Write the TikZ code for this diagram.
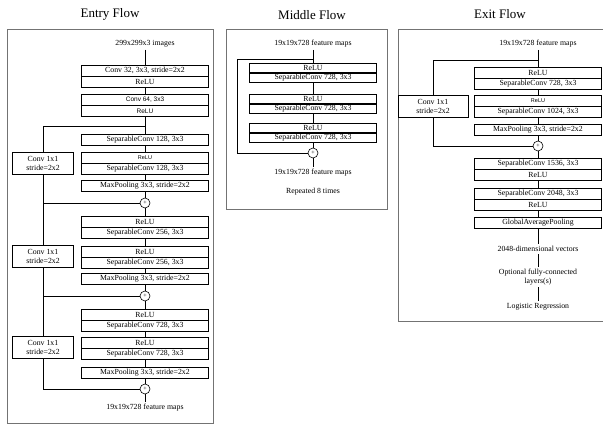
\documentclass[tikz,border=0pt]{standalone}
\usepackage{fontspec}
\setmainfont{Liberation Serif}
\newfontfamily\lsans{Liberation Sans}
\usetikzlibrary{positioning}

\begin{document}
\begin{tikzpicture}
[x=1pt, y=-1pt, node distance=0pt,
% STYLES
every node/.style={font=\fontsize{7.8}{9}\selectfont},
% The layer style is used to draw one operation of the network
layer/.style={rectangle, draw, line width=0.6pt, fill=white, inner sep=0pt, minimum width=127pt, minimum height=11pt},
mlayer/.style={layer, minimum height=9.5pt},
% sans-serif layers
slayer/.style={layer, font=\lsans\fontsize{6.5}{7}\selectfont},
tlayer/.style={layer, font=\lsans\fontsize{5.5}{6}\selectfont},
% 1x1 convolution on the shortcut
shortcut/.style={rectangle, draw, line width=0.6pt, fill=white, inner sep=0pt, minimum width=61pt, minimum height=22pt, align=center},
addnode/.style={circle, draw, line width=0.6pt, fill=white, inner sep=0pt, minimum size=10pt, font=\fontsize{6}{6}\selectfont},
txt/.style={inner sep=2pt, align=center},
title/.style={font=\fontsize{13}{15}\selectfont},
frame/.style={draw=black!55, line width=0.8pt},
every path/.style={line width=0.6pt}]

\useasboundingbox (0,0) rectangle (603,425);

% Frames and titles
\draw [frame] (7,29) rectangle (213,423);
\draw [frame] (226,29) rectangle (387,209);
\draw [frame] (610,29) -- (398,29) -- (398,321) -- (610,321);
\node [title] (tentry) at (110,14) {Entry Flow};
\node [title] (tmiddle) at (312,15) {Middle Flow};
\node [title] (texit) at (500,14) {Exit Flow};

% Entry flow
\node [txt] (img) at (145,44) {299x299x3 images};
\node [layer] (c32) at (145,70.5) {Conv 32, 3x3, stride=2x2};
\node [layer, below=of c32] (relu1) {ReLU};
\node [slayer] (c64) at (145,99.5) {Conv 64, 3x3};
\node [slayer, below=of c64] (relu2) {ReLU};
\node [layer] (sep128a) at (145,139.5) {SeparableConv 128, 3x3};
\node [tlayer] (relu3) at (145,157.5) {ReLU};
\node [layer, below=of relu3] (sep128b) {SeparableConv 128, 3x3};
\node [layer] (mp1) at (145,185.5) {MaxPooling 3x3, stride=2x2};
\node [addnode] (add1) at (145,203) {+};
\node [layer] (relu4) at (145,221.5) {ReLU};
\node [layer, below=of relu4] (sep256a) {SeparableConv 256, 3x3};
\node [layer] (relu5) at (145,251.5) {ReLU};
\node [layer, below=of relu5] (sep256b) {SeparableConv 256, 3x3};
\node [layer] (mp2) at (145,278.5) {MaxPooling 3x3, stride=2x2};
\node [addnode] (add2) at (145,296) {+};
\node [layer] (relu6) at (145,314.5) {ReLU};
\node [layer, below=of relu6] (sep728a) {SeparableConv 728, 3x3};
\node [layer] (relu7) at (145,342.5) {ReLU};
\node [layer, below=of relu7] (sep728b) {SeparableConv 728, 3x3};
\node [layer] (mp3) at (145,372.5) {MaxPooling 3x3, stride=2x2};
\node [addnode] (add3) at (145,389) {+};
\node [txt] (eout) at (145,408) {19x19x728 feature maps};
\node [shortcut] (cv1) at (43,163) {Conv 1x1\\stride=2x2};
\node [shortcut] (cv2) at (43,256.5) {Conv 1x1\\stride=2x2};
\node [shortcut] (cv3) at (43,347) {Conv 1x1\\stride=2x2};
\coordinate (eb) at (145,126);

\draw (img) -- (c32);
\draw (relu1) -- (c64);
\draw (relu2) -- (sep128a);
\draw (sep128a) -- (relu3);
\draw (sep128b) -- (mp1);
\draw (mp1) -- (add1);
\draw (add1) -- (relu4);
\draw (sep256a) -- (relu5);
\draw (sep256b) -- (mp2);
\draw (mp2) -- (add2);
\draw (add2) -- (relu6);
\draw (sep728a) -- (relu7);
\draw (sep728b) -- (mp3);
\draw (mp3) -- (add3);
\draw (add3) -- (eout);
\draw (eb) -| (cv1);
\draw (cv1) |- (add1);
\draw (add1) -| (cv2);
\draw (cv2) |- (add2);
\draw (add2) -| (cv3);
\draw (cv3) |- (add3);

% Middle flow
\node [txt] (min) at (313,44) {19x19x728 feature maps};
\node [mlayer] (m1a) at (313,67.75) {ReLU};
\node [mlayer, below=of m1a] (m1b) {SeparableConv 728, 3x3};
\node [mlayer] (m2a) at (313,98.75) {ReLU};
\node [mlayer, below=of m2a] (m2b) {SeparableConv 728, 3x3};
\node [mlayer] (m3a) at (313,127.75) {ReLU};
\node [mlayer, below=of m3a] (m3b) {SeparableConv 728, 3x3};
\node [addnode] (madd) at (313,153) {+};
\node [txt] (mout) at (313,173) {19x19x728 feature maps};
\node [txt] (mrep) at (313,192) {Repeated 8 times};
\coordinate (mb) at (313,59);
\coordinate (mc) at (237,59);

\draw (min) -- (m1a);
\draw (m1b) -- (m2a);
\draw (m2b) -- (m3a);
\draw (m3b) -- (madd);
\draw (madd) -- (mout);
\draw (mb) -- (mc) |- (madd);

% Exit flow
\node [txt] (xin) at (538,44) {19x19x728 feature maps};
\node [layer] (x1a) at (538,72.5) {ReLU};
\node [layer, below=of x1a] (x1b) {SeparableConv 728, 3x3};
\node [tlayer] (x2a) at (538,100.5) {ReLU};
\node [layer, below=of x2a] (x2b) {SeparableConv 1024, 3x3};
\node [layer] (xmp) at (538,129.5) {MaxPooling 3x3, stride=2x2};
\node [addnode] (xadd) at (538,146) {+};
\node [layer] (x3a) at (538,163.5) {SeparableConv 1536, 3x3};
\node [layer, below=of x3a] (x3b) {ReLU};
\node [layer] (x4a) at (538,193.5) {SeparableConv 2048, 3x3};
\node [layer, below=of x4a] (x4b) {ReLU};
\node [layer] (xgap) at (538,222.5) {GlobalAveragePooling};
\node [txt] (vec) at (538,249) {2048-dimensional vectors};
\node [txt] (fc) at (538,277) {Optional fully-connected\\layers(s)};
\node [txt] (lr) at (538,307) {Logistic Regression};
\node [shortcut, minimum width=70pt] (xcv) at (433,106) {Conv 1x1\\stride=2x2};
\coordinate (xb) at (538,60);

\draw (xin) -- (x1a);
\draw (x1b) -- (x2a);
\draw (x2b) -- (xmp);
\draw (xmp) -- (xadd);
\draw (xadd) -- (x3a);
\draw (x3b) -- (x4a);
\draw (x4b) -- (xgap);
\draw (xgap) -- (vec);
\draw (vec) -- (fc);
\draw (fc) -- (lr);
\draw (xb) -| (xcv);
\draw (xcv) |- (xadd);

\end{tikzpicture}
\end{document}
